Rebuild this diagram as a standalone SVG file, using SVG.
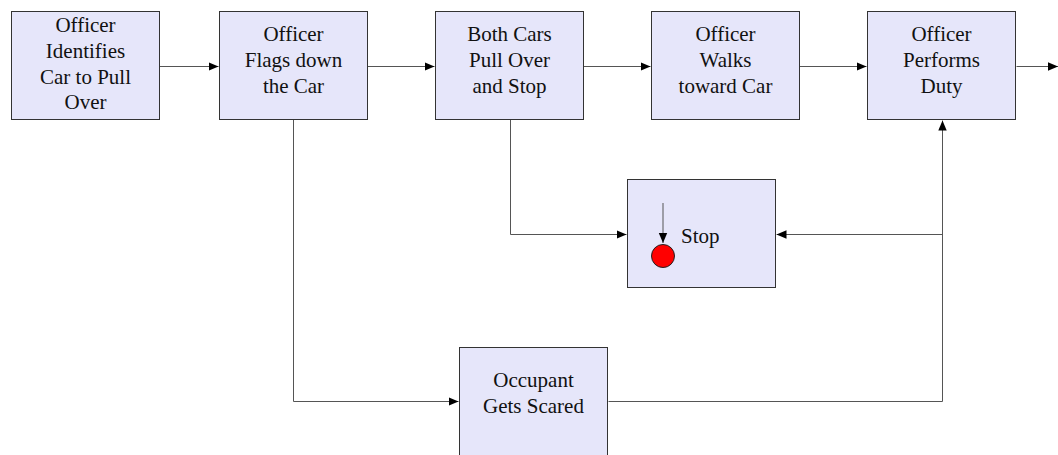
<svg xmlns="http://www.w3.org/2000/svg" width="1058" height="455" viewBox="0 0 1058 455">
  <style>
    .box { fill: #e6e6fa; stroke: #333333; stroke-width: 1; }
    .lbl { font-family: "Liberation Serif", "Times New Roman", Times, "DejaVu Serif", serif; font-size: 21px; fill: #111111; text-anchor: middle; }
    .edge { fill: none; stroke: #555555; stroke-width: 1; marker-end: url(#arrow); }
  </style>
  <defs>
    <marker id="arrow" viewBox="0 0 10 10" refX="10" refY="5" markerWidth="10" markerHeight="10" markerUnits="userSpaceOnUse" orient="auto">
      <path d="M0,0.8 L10,5 L0,9.2 Z" fill="#000000"/>
    </marker>
  </defs>
  <rect width="1058" height="455" fill="#ffffff"/>

  <g id="connectors">
    <path class="edge" d="M159.5,66.5 H218.5"/>
    <path class="edge" d="M367.5,66.5 H434.5"/>
    <path class="edge" d="M583.5,66.5 H650.5"/>
    <path class="edge" d="M799.5,66.5 H866.5"/>
    <path class="edge" d="M1016.5,66.5 H1058"/>
    <path class="edge" d="M510.5,120 V234.5 H626.5"/>
    <path class="edge" d="M293.5,120 V401.5 H458.5"/>
    <path class="edge" d="M608.5,401.5 H942.5 V120.5"/>
    <path class="edge" d="M942.5,234.5 H776.5"/>
  </g>

  <g id="n1">
    <rect class="box" x="11.5" y="11.5" width="148" height="108"/>
    <text class="lbl" x="85.5" y="32">Officer</text>
    <text class="lbl" x="85.5" y="57.5">Identifies</text>
    <text class="lbl" x="85.5" y="83.5">Car to Pull</text>
    <text class="lbl" x="85.5" y="109">Over</text>
  </g>
  <g id="n2">
    <rect class="box" x="219.5" y="11.5" width="148" height="108"/>
    <text class="lbl" x="293.5" y="41">Officer</text>
    <text class="lbl" x="293.5" y="67">Flags down</text>
    <text class="lbl" x="293.5" y="93">the Car</text>
  </g>
  <g id="n3">
    <rect class="box" x="435.5" y="11.5" width="148" height="108"/>
    <text class="lbl" x="509.5" y="41">Both Cars</text>
    <text class="lbl" x="509.5" y="67">Pull Over</text>
    <text class="lbl" x="509.5" y="93">and Stop</text>
  </g>
  <g id="n4">
    <rect class="box" x="651.5" y="11.5" width="148" height="108"/>
    <text class="lbl" x="725.5" y="41">Officer</text>
    <text class="lbl" x="725.5" y="67">Walks</text>
    <text class="lbl" x="725.5" y="93">toward Car</text>
  </g>
  <g id="n5">
    <rect class="box" x="867.5" y="11.5" width="148" height="108"/>
    <text class="lbl" x="941.5" y="41">Officer</text>
    <text class="lbl" x="941.5" y="67">Performs</text>
    <text class="lbl" x="941.5" y="93">Duty</text>
  </g>
  <g id="stop">
    <rect class="box" x="627.5" y="179.5" width="148" height="108"/>
    <path class="edge" d="M663,203 V243"/>
    <circle cx="663" cy="256" r="11.5" fill="#ff0000" stroke="#222222" stroke-width="1"/>
    <text class="lbl" x="681" y="243" style="text-anchor:start">Stop</text>
  </g>
  <g id="scared">
    <rect class="box" x="459.5" y="347.5" width="148" height="120"/>
    <text class="lbl" x="533.5" y="387">Occupant</text>
    <text class="lbl" x="533.5" y="413">Gets Scared</text>
  </g>
</svg>
